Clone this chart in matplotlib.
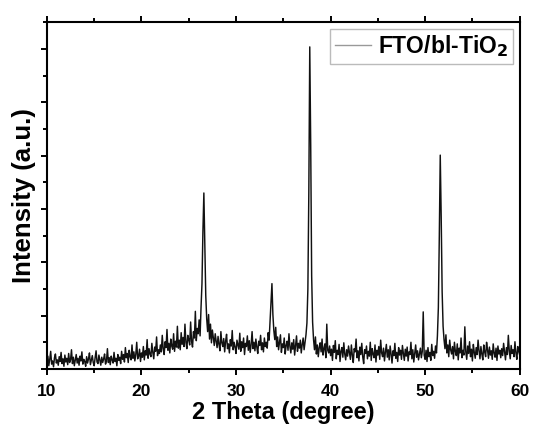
import matplotlib.pyplot as plt
from matplotlib.ticker import MultipleLocator
import numpy as np

plt.rcParams['font.family'] = ['Liberation Sans', 'DejaVu Sans']
plt.rcParams['font.weight'] = 'bold'

# XRD scan, 10-60 deg in 0.1 deg steps (counts)
two_theta_start = 10.0
two_theta_end = 60.0
intensity = [
    12, 24, 6, 18, 33, 9, 15, 4, 21, 28, 11, 17, 7, 23, 14, 31, 10, 19, 5, 26,
    13, 20, 8, 29, 12, 17, 36, 10, 22, 6, 16, 27, 11, 20, 7, 24, 15, 32, 9, 18,
    14, 5, 23, 11, 19, 30, 8, 17, 25, 12, 6, 21, 34, 13, 10, 26, 16, 7, 22, 12,
    19, 28, 9, 15, 38, 12, 21, 8, 24, 17, 11, 31, 14, 20, 6, 27, 16, 22, 10, 33,
    18, 27, 13, 40, 21, 29, 12, 35, 23, 17, 45, 20, 32, 15, 27, 50, 19, 24, 37, 14,
    30, 22, 42, 17, 34, 26, 55, 20, 38, 28, 23, 48, 31, 19, 41, 33, 60, 25, 36, 29,
    45, 32, 63, 38, 27, 51, 40, 74, 35, 48, 30, 56, 43, 37, 66, 33, 52, 41, 80, 39,
    54, 36, 68, 46, 59, 42, 84, 50, 38, 63, 55, 45, 88, 51, 41, 70, 58, 108, 53, 76,
    66, 92, 62, 115, 160, 258, 330, 238, 138, 94, 70, 102, 56, 84, 49, 73, 58, 44, 66, 52,
    40, 61, 46, 34, 70, 49, 42, 57, 32, 52, 65, 38, 47, 30, 55, 43, 72, 36, 50, 41,
    29, 54, 45, 37, 67, 33, 51, 40, 58, 27, 48, 42, 62, 35, 53, 31, 46, 70, 38, 50,
    34, 56, 41, 29, 52, 44, 63, 36, 49, 32, 58, 42, 50, 39, 68, 54, 88, 118, 160, 102,
    72, 55, 78, 42, 60, 36, 50, 64, 31, 47, 40, 58, 28, 44, 52, 35, 66, 42, 30, 49,
    37, 55, 26, 44, 62, 33, 48, 39, 54, 30, 46, 58, 36, 50, 64, 86, 150, 330, 604, 420,
    175, 88, 55, 36, 60, 28, 45, 23, 40, 49, 32, 56, 26, 38, 47, 21, 84, 35, 30, 43,
    25, 37, 16, 44, 31, 53, 19, 35, 27, 46, 14, 33, 40, 22, 49, 28, 17, 36, 24, 43,
    30, 18, 45, 26, 12, 38, 32, 56, 21, 34, 15, 41, 27, 48, 23, 10, 36, 29, 43, 19,
    33, 24, 50, 16, 38, 28, 21, 45, 13, 35, 26, 42, 18, 54, 30, 23, 39, 15, 32, 46,
    22, 36, 17, 43, 28, 11, 34, 25, 48, 20, 31, 14, 40, 26, 35, 18, 44, 29, 16, 37,
    24, 41, 15, 32, 27, 50, 19, 36, 13, 30, 45, 22, 34, 17, 28, 39, 21, 33, 107, 26,
    18, 35, 14, 40, 23, 31, 16, 46, 25, 33, 20, 43, 30, 62, 115, 248, 401, 285, 145, 80,
    55, 38, 64, 30, 45, 23, 54, 36, 28, 42, 19, 50, 33, 25, 47, 17, 39, 30, 58, 21,
    35, 26, 79, 32, 18, 43, 29, 51, 23, 37, 15, 46, 31, 20, 40, 27, 54, 34, 19, 42,
    28, 17, 45, 32, 23, 50, 36, 20, 41, 26, 34, 18, 47, 30, 22, 39, 16, 43, 28, 35,
    21, 38, 25, 48, 32, 17, 40, 27, 63, 34, 19, 44, 29, 36, 23, 51, 30, 18, 42, 33,
    26,
]
two_theta = np.linspace(two_theta_start, two_theta_end, len(intensity))

fig = plt.figure(figsize=(5.33, 4.28), dpi=100)
ax = fig.add_axes([0.088, 0.138, 0.887, 0.811])

ax.plot(two_theta, intensity, color='#111111', linewidth=1.05, label='FTO/bl-TiO$_\\mathbf{2}$')

ax.set_xlim(10, 60)
ax.set_ylim(0, 651)
ax.xaxis.set_major_locator(MultipleLocator(10))
ax.xaxis.set_minor_locator(MultipleLocator(5))
ax.yaxis.set_major_locator(MultipleLocator(100))
ax.yaxis.set_minor_locator(MultipleLocator(50))
ax.set_yticklabels([])

ax.tick_params(which='both', direction='out', width=1.4, top=True, right=False)
ax.tick_params(which='major', length=4.5, labelsize=12.5, pad=6.5)
ax.tick_params(which='minor', length=3)
for lbl in ax.get_xticklabels():
    lbl.set_fontweight('bold')
for sp in ax.spines.values():
    sp.set_linewidth(1.5)

ax.set_xlabel('2 Theta (degree)', fontsize=17, fontweight='bold', labelpad=1)
ax.set_ylabel('Intensity (a.u.)', fontsize=18.5, fontweight='bold')
ax.yaxis.set_label_coords(-0.024, 0.5)

leg = ax.legend(loc='upper right', fontsize=16.5, frameon=True, fancybox=False,
                edgecolor='#aaaaaa', borderaxespad=0.3, handlelength=1.6,
                handletextpad=0.3, borderpad=0.2)
leg.get_frame().set_linewidth(1.0)
leg.get_lines()[0].set_color('#999999')
leg.get_lines()[0].set_linewidth(1.0)
for t in leg.get_texts():
    t.set_fontweight('bold')

fig.savefig('out.png', dpi=100)
